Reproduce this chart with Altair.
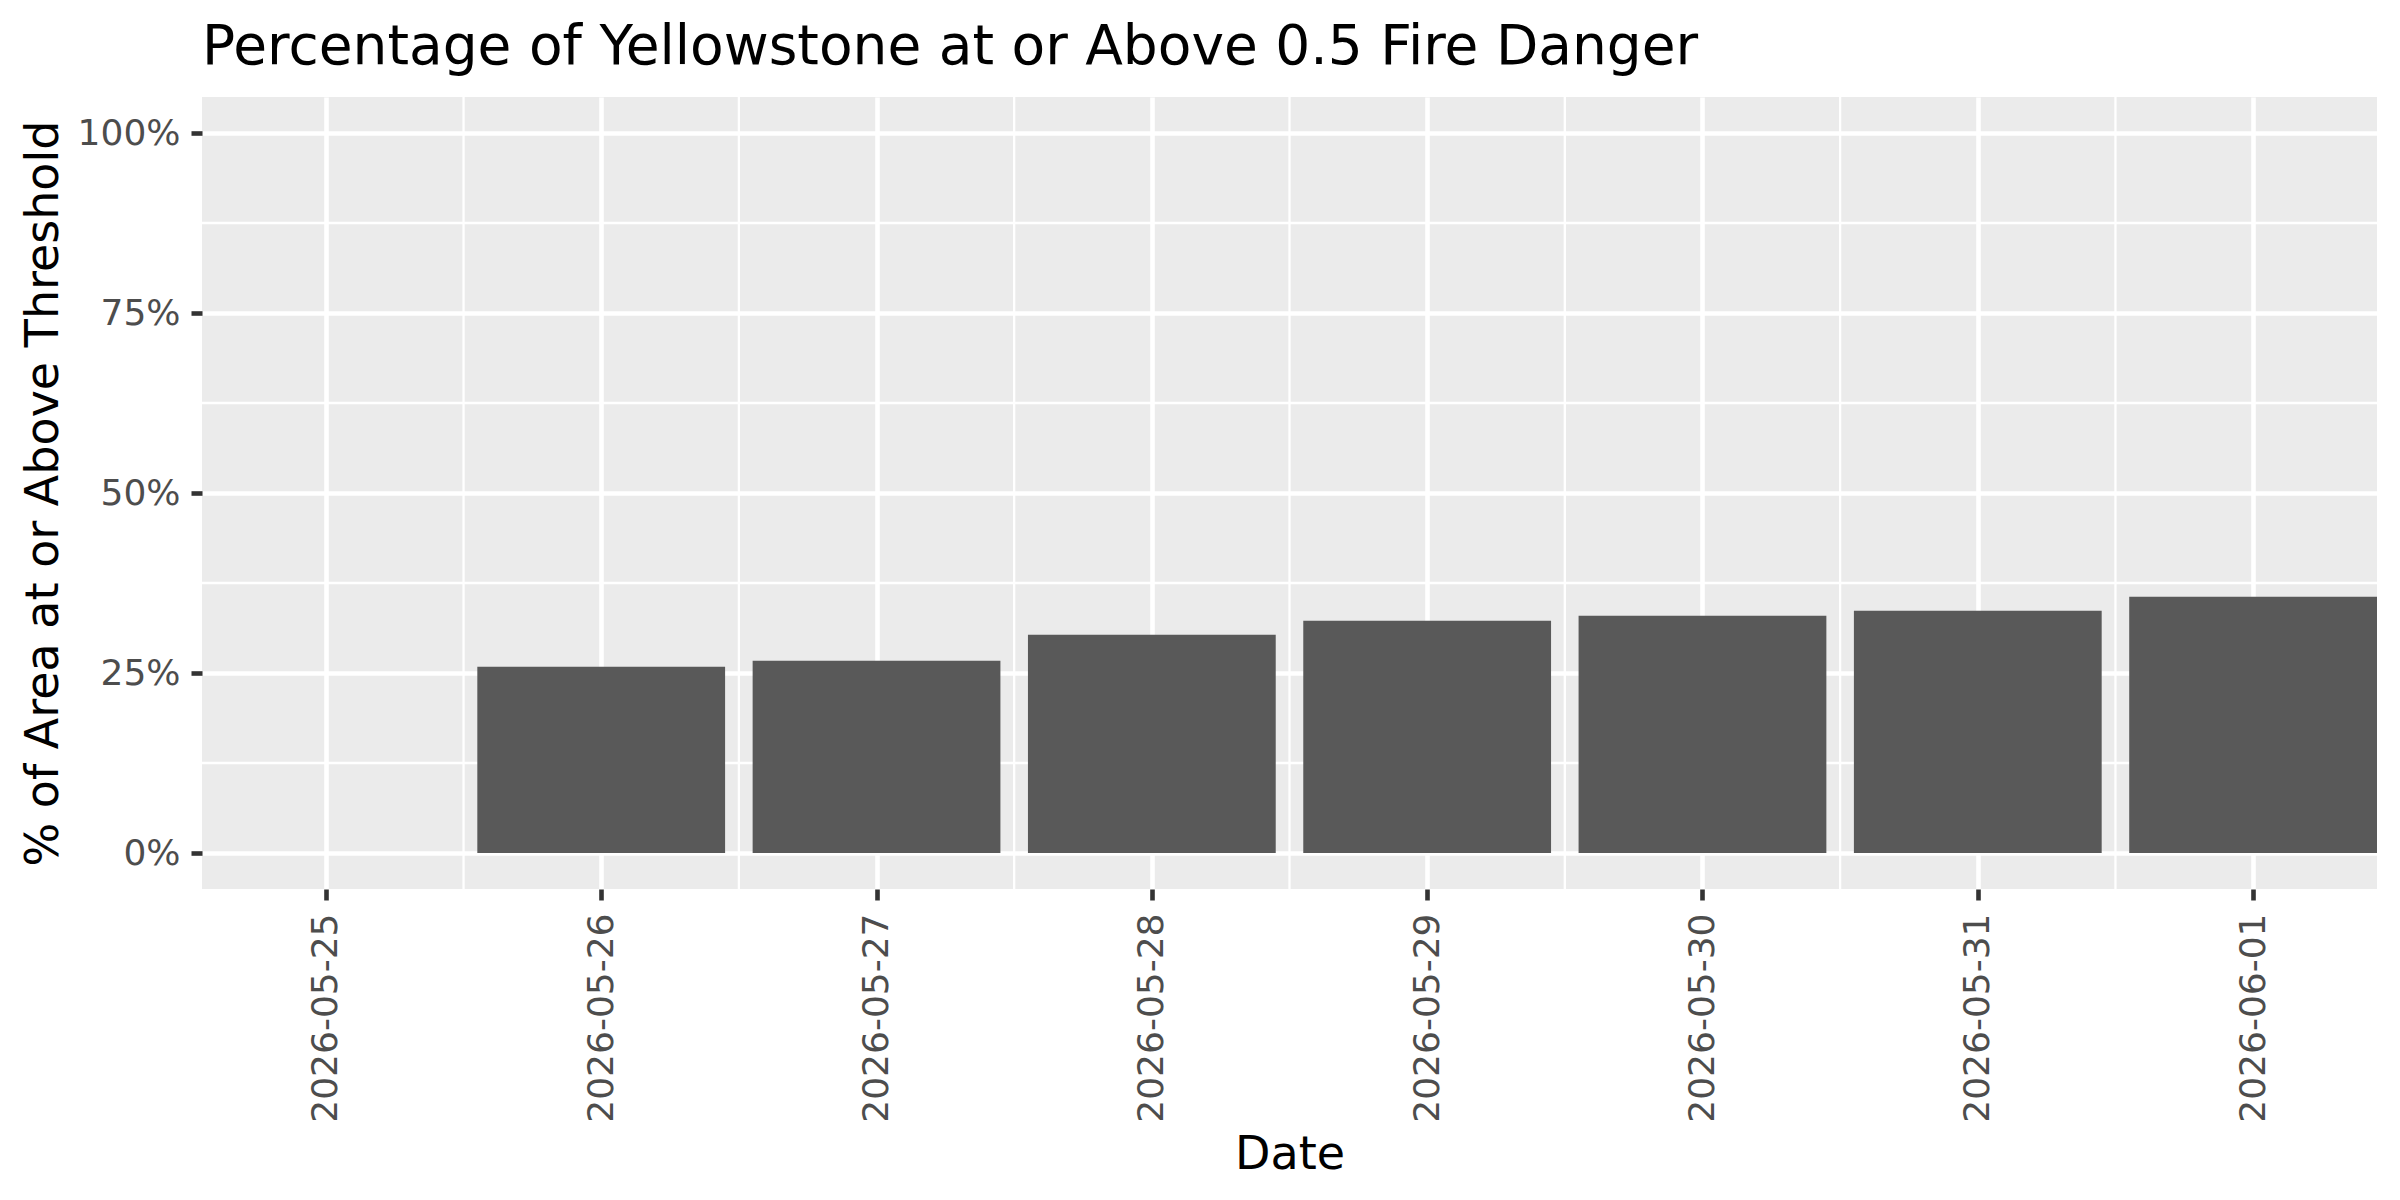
import altair as alt
import pandas as pd

# ---- data ----
dates = ["2026-05-25", "2026-05-26", "2026-05-27", "2026-05-28",
         "2026-05-29", "2026-05-30", "2026-05-31", "2026-06-01"]
share = [0.0, 0.2587, 0.267, 0.303, 0.3225, 0.3294, 0.3363, 0.3558]
y_ticks = [0, 0.25, 0.5, 0.75, 1.0]
y_minor = [0.125, 0.375, 0.625, 0.875]

DAY = 86400000
ts = [int(pd.Timestamp(d, tz="UTC").value // 10**6) for d in dates]
x_minor = [(a + b) // 2 for a, b in zip(ts[:-1], ts[1:])]
x_domain = [ts[0] - 0.45 * DAY, ts[-1] + 0.45 * DAY]

df = pd.DataFrame({"date": dates, "share": share})
minor_x_df = pd.DataFrame({"t": x_minor})
minor_y_df = pd.DataFrame({"v": y_minor})

FONT = "DejaVu Sans"
xscale = alt.Scale(type="utc", domain=x_domain, nice=False)
yscale = alt.Scale(domain=[-0.05, 1.05], nice=False)

xaxis = alt.Axis(
    title="Date",
    values=ts,
    labelExpr="utcFormat(datum.value, '%Y-%m-%d')",
    labelAngle=270,
    labelAlign="right",
    labelBaseline="middle",
    labelPadding=13,
    labelLimit=0,
    titleX=1087.5,
    titleY=279,
    titleBaseline="alphabetic",
    titleAlign="center",
)
yaxis = alt.Axis(
    title="% of Area at or Above Threshold",
    values=y_ticks,
    format=".0%",
    labelPadding=11,
    labelLimit=0,
    titleAngle=270,
    titleX=-144.6,
    titleY=396,
    titleBaseline="alphabetic",
    titleAlign="center",
)

vrules = alt.Chart(minor_x_df).mark_rule(color="white", strokeWidth=2.3).encode(
    x=alt.X("t:T", scale=xscale, axis=xaxis)
)
hrules = alt.Chart(minor_y_df).mark_rule(color="white", strokeWidth=2.3).encode(
    y=alt.Y("v:Q", scale=yscale, axis=yaxis)
)

bars = alt.Chart(df).transform_calculate(
    start="toDate(datum.date) - 0.45 * 86400000",
    end="toDate(datum.date) + 0.45 * 86400000",
).mark_bar(color="#595959").encode(
    x=alt.X("start:T", scale=xscale, axis=xaxis),
    x2="end:T",
    y=alt.Y("share:Q", scale=yscale, axis=yaxis),
    y2=alt.datum(0),
)

chart = alt.layer(vrules, hrules, bars).properties(
    width=2175,
    height=792,
    title=alt.TitleParams(
        "Percentage of Yellowstone at or Above 0.5 Fire Danger",
        anchor="start",
        frame="group",
        font=FONT,
        fontSize=55,
        fontWeight="normal",
        color="black",
        baseline="alphabetic",
        offset=32,
        dy=55,
    ),
    autosize=alt.AutoSizeParams(type="none"),
    padding={"left": 194, "top": 89, "right": 15, "bottom": 300},
).configure_view(
    fill="#EBEBEB", stroke=None
).configure_axis(
    domain=False,
    grid=True,
    gridColor="white",
    gridWidth=4.6,
    tickColor="#333333",
    tickWidth=4.6,
    tickSize=11,
    labelFont=FONT,
    labelFontSize=36,
    labelColor="#4D4D4D",
    titleFont=FONT,
    titleFontSize=46,
    titleFontWeight="normal",
    titleColor="black",
)

chart.save("out.html", embed_options={"renderer": "svg", "actions": False})
